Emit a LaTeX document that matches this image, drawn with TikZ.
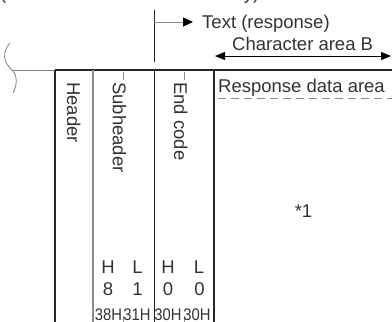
\documentclass[tikz,border=0pt]{standalone}
\usepackage{fontspec}
\setmainfont{Liberation Sans}
\newfontfamily\narrowfont[FakeStretch=0.88]{Liberation Sans}
\usetikzlibrary{arrows.meta}
\definecolor{txtc}{gray}{0.2}
\definecolor{lgray}{gray}{0.55}
\begin{document}
\begin{tikzpicture}[x=1pt,y=-1pt,
  lbl/.style={inner sep=0pt,text=txtc,font=\fontsize{18.5}{22}\selectfont},
  hexlbl/.style={inner sep=0pt,text=txtc,font=\narrowfont\fontsize{16.8}{18}\selectfont},
  thickln/.style={line width=2pt,black!85},
  grayln/.style={line width=1.3pt,lgray},
  thinln/.style={line width=1pt,black!85},
  tickln/.style={line width=0.8pt,lgray},
  breakln/.style={line width=0.8pt,gray},
]
\useasboundingbox (0,0) rectangle (392,322);
% clipped title line
\node[lbl,anchor=base west] (ttl) at (0,-1) {(Batch read in ASCII code only)};
% coordinates
\coordinate (brT) at (10,43);
\coordinate (brM) at (12,70);
\coordinate (brB) at (13,93);
\coordinate (c0t) at (55,70);  \coordinate (c0b) at (55,322);
\coordinate (c1t) at (93,70);  \coordinate (c1b) at (93,322);
\coordinate (c2t) at (154,70); \coordinate (c2b) at (154,322);
\coordinate (c3t) at (214,70); \coordinate (c3b) at (214,322);
\coordinate (rend) at (392,70);
\coordinate (vt) at (154,10); \coordinate (vb) at (154,62);
\coordinate (as) at (154,22); \coordinate (ae) at (193,22);
\coordinate (dl) at (215,56); \coordinate (dr) at (391,56);
\coordinate (dsl) at (218,98); \coordinate (dsr) at (392,98);
% break symbol and left line
\draw[breakln] (brT) .. controls (2,52) and (3,62) .. (brM) .. controls (18,76) and (17,86) .. (brB);
\draw[breakln] (brM) -- (c0t);
% frame
\draw[thickln] (c0t) -- (rend);
\draw[thickln] (c0t) -- (c0b);
\draw[grayln] (c1t) -- (c1b);
\draw[thinln] (c2t) -- (c2b);
\draw[thickln] (c3t) -- (c3b);
% ticks
\draw[tickln] (123,72) -- (123,80);
\draw[tickln] (184,72) -- (184,80);
\draw[tickln] (123,316) -- (123,322);
\draw[tickln] (184,316) -- (184,322);
% text (response) arrow
\draw[thinln] (vt) -- (vb);
\draw[line width=1pt,lgray,-{Triangle[length=10pt,width=9pt,color=black]}] (as) -- (ae);
\node[lbl,anchor=base west] (txt) at (202,28) {Text (response)};
\node[lbl,anchor=base west] (cab) at (232,50) {Character area B};
\draw[line width=1pt,black,{Triangle[length=10pt,width=8pt]}-{Triangle[length=10pt,width=8pt]}] (dl) -- (dr);
\node[lbl,anchor=base west] (rda) at (218,92) {Response data area};
\draw[line width=0.8pt,lgray,dash pattern=on 8pt off 5pt] (dsl) -- (dsr);
\node[lbl,anchor=base] (star) at (303.5,217) {*1};
% column titles
\node[lbl,rotate=-90,anchor=base west] (hdr) at (67,82) {Header};
\node[lbl,rotate=-90,anchor=base west] (sub) at (113,82) {Subheader};
\node[lbl,rotate=-90,anchor=base west] (endc) at (174,82) {End code};
% H/L rows
\node[lbl,anchor=base] (h1) at (108,273) {H};
\node[lbl,anchor=base] (l1) at (137.5,273) {L};
\node[lbl,anchor=base] (h2) at (168,273) {H};
\node[lbl,anchor=base] (l2) at (199,273) {L};
\node[lbl,anchor=base] (d1) at (108,295) {8};
\node[lbl,anchor=base] (d2) at (137.5,295) {1};
\node[lbl,anchor=base] (d3) at (168,295) {0};
\node[lbl,anchor=base] (d4) at (199.5,295) {0};
\node[hexlbl,anchor=base] (x1) at (108.5,320) {38H};
\node[hexlbl,anchor=base] (x2) at (137,320) {31H};
\node[hexlbl,anchor=base] (x3) at (168,320) {30H};
\node[hexlbl,anchor=base] (x4) at (197,320) {30H};
\end{tikzpicture}
\end{document}
